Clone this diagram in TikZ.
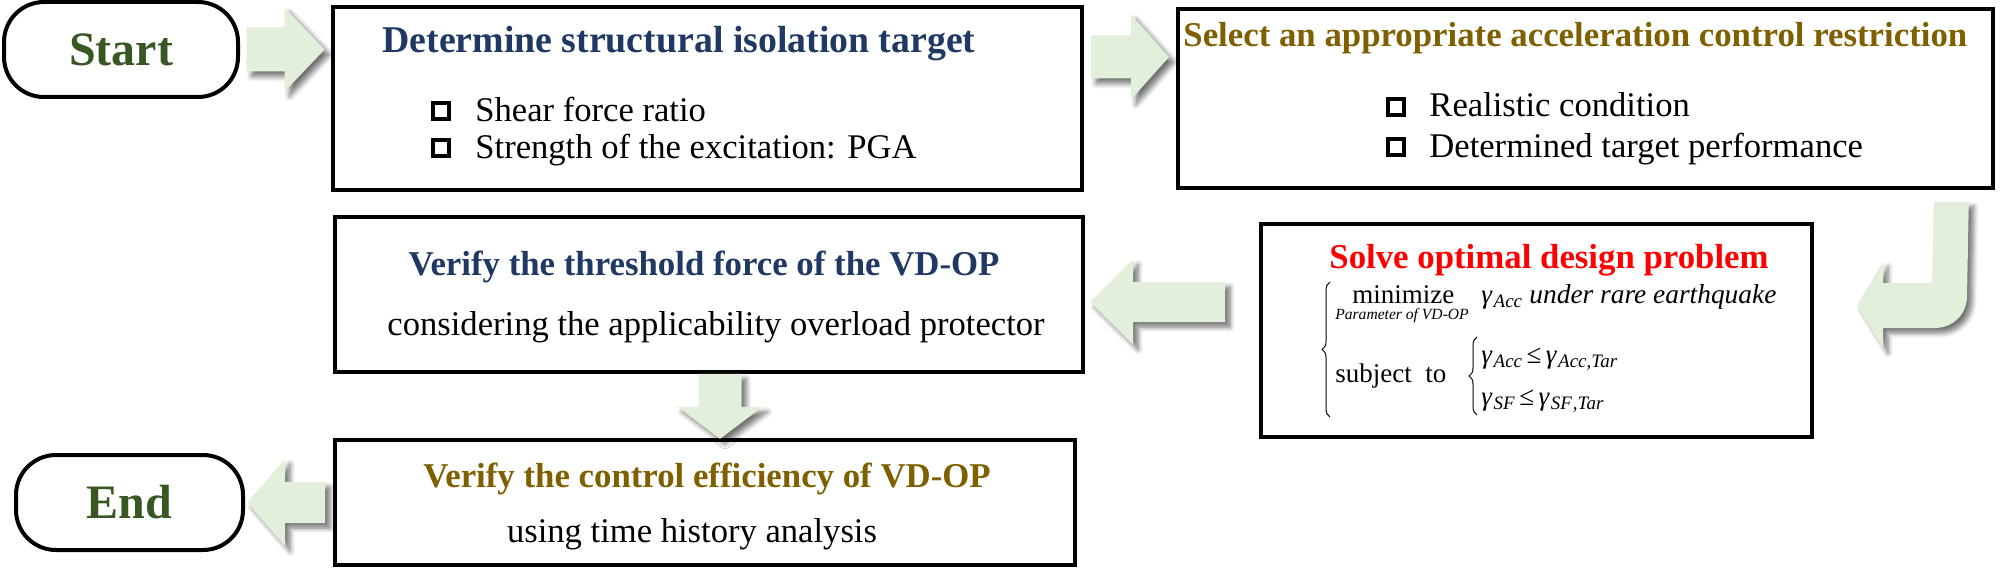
\documentclass[tikz,border=0pt]{standalone}
\usepackage{fontspec}
\setmainfont{Liberation Serif}
\usetikzlibrary{calc,decorations.pathreplacing,shadows.blur}
\definecolor{arrowgreen}{HTML}{E2EFDA}
\definecolor{termgreen}{HTML}{385723}
\definecolor{navyblue}{HTML}{1F3864}
\definecolor{goldbrown}{HTML}{7F6000}
\newcommand\gsubx[1]{{\itshape γ}\kern0.8pt\raisebox{-0.35ex}{\fontsize{9.5}{10}\selectfont\itshape #1}}
\begin{document}
\begin{tikzpicture}[x=0.5pt,y=-0.5pt,
  boxnode/.style={draw=black,line width=1.8pt,inner sep=0pt,fill=white},
  termnode/.style={draw=black,line width=2pt,rounded corners=20pt,inner sep=0pt,fill=white,
     font=\fontsize{24}{28}\selectfont\bfseries,text=termgreen},
  ttlfont/.style={font=\fontsize{17.4}{20}\selectfont\bfseries,inner sep=0pt},
  bodyfont/.style={font=\fontsize{17.3}{20}\selectfont,inner sep=0pt},
  chk/.style={draw=black,line width=2pt,minimum size=8pt,inner sep=0pt},
  mathtxt/.style={font=\fontsize{13.5}{16}\selectfont,inner sep=0pt},
  arrowfill/.style={fill=arrowgreen,blur shadow={shadow xshift=2.5pt,shadow yshift=-2.5pt,shadow blur steps=6,shadow blur radius=2.5pt,shadow opacity=55}},
  pics/rarr/.style n args={4}{code={\fill[arrowfill] ({-#1/2},{-#2}) -- ({#1/2-#4},{-#2}) -- ({#1/2-#4},{-#3}) -- ({#1/2},0) -- ({#1/2-#4},{#3}) -- ({#1/2-#4},{#2}) -- ({-#1/2},{#2}) -- cycle;}},
  pics/larr/.style n args={4}{code={\fill[arrowfill] ({#1/2},{-#2}) -- ({-#1/2+#4},{-#2}) -- ({-#1/2+#4},{-#3}) -- ({-#1/2},0) -- ({-#1/2+#4},{#3}) -- ({-#1/2+#4},{#2}) -- ({#1/2},{#2}) -- cycle;}},
  pics/darr/.style n args={4}{code={\fill[arrowfill] ({-#2},{-#1/2}) -- ({-#2},{#1/2-#4}) -- ({-#3},{#1/2-#4}) -- (0,{#1/2}) -- ({#3},{#1/2-#4}) -- ({#2},{#1/2-#4}) -- ({#2},{-#1/2}) -- cycle;}}
]
\useasboundingbox (0,0) rectangle (2000,567);

% nodes
\node[termnode,minimum width=117pt,minimum height=47.5pt] (start) at (121,49.5) {Start};
\node[boxnode,minimum width=374.5pt,minimum height=91.5pt] (box1) at (707.5,98.5) {};
\node[boxnode,minimum width=407.5pt,minimum height=89.5pt] (box2) at (1585.5,98.5) {};
\node[boxnode,minimum width=275.5pt,minimum height=106.5pt] (solve) at (1536.5,330.5) {};
\node[boxnode,minimum width=374pt,minimum height=77.5pt] (verif1) at (709,294.5) {};
\node[boxnode,minimum width=370pt,minimum height=62.5pt] (verif2) at (705,502.5) {};
\node[termnode,minimum width=113.5pt,minimum height=47.5pt] (end) at (129.5,502.5) {End};

% box 1 texts
\node[ttlfont,font=\fontsize{18.9}{22}\selectfont\bfseries,text=navyblue,anchor=base west] (t1) at (382,53) {Determine structural isolation target};
\node[chk] (c11) at (441,111) {};
\node[bodyfont,anchor=base west] (i11) at (475,121) {Shear force ratio};
\node[chk] (c12) at (441,148) {};
\node[bodyfont,anchor=base west] (i12) at (475,158) {Strength of the excitation: PGA};

% box 2 texts
\node[ttlfont,text=goldbrown,anchor=base west] (t2) at (1183,47) {Select an appropriate acceleration control restriction};
\node[chk] (c21) at (1396,107) {};
\node[bodyfont,anchor=base west] (i21) at (1429,117) {Realistic condition};
\node[chk] (c22) at (1396,147) {};
\node[bodyfont,anchor=base west] (i22) at (1429,157) {Determined target performance};

% solve box
\node[ttlfont,text=red,anchor=base] (t3) at (1549,268) {Solve optimal design problem};
\node[mathtxt,anchor=base west] (m1) at (1352,303) {minimize};
\node[inner sep=0pt,font=\fontsize{7.8}{9}\selectfont\itshape,anchor=base] (m2) at (1402,319) {Parameter of VD-OP};
\node[mathtxt,anchor=base west] (m3) at (1481,303) {\gsubx{Acc}};
\node[mathtxt,font=\fontsize{13.7}{16}\selectfont\itshape,anchor=base west] (m4) at (1529,303) {under rare earthquake};
\node[mathtxt,anchor=base west] (m5) at (1335,382) {subject\ \ to};
\node[mathtxt,anchor=base west] (m6) at (1481,363) {\gsubx{Acc}\,≤\,\gsubx{Acc,Tar}};
\node[mathtxt,anchor=base west] (m7) at (1481,405) {\gsubx{SF}\,≤\,\gsubx{SF\kern0.5pt,Tar}};
\draw[decorate,decoration={brace,amplitude=4pt},line width=0.5pt] (1330,417) -- (1330,282);
\draw[decorate,decoration={brace,amplitude=4pt},line width=0.5pt] (1477,415) -- (1477,337);

% verify threshold
\node[ttlfont,text=navyblue,anchor=base] (t4) at (704,275) {Verify the threshold force of the VD-OP};
\node[bodyfont,anchor=base] (i4) at (716,335) {considering the applicability overload protector};

% verify control
\node[ttlfont,text=goldbrown,anchor=base] (t5) at (707,487) {Verify the control efficiency of VD-OP};
\node[bodyfont,anchor=base] (i5) at (692,542) {using time history analysis};

% block arrows
\pic at ($(start.east)!0.5!(box1.west|-start.east)$) {rarr={78}{22}{42}{40}};
\pic at ($(box1.east)!0.5!(box2.west)+(0,-41.5)$) {rarr={78}{21.5}{42.5}{38}};
\pic at ($(verif1.east)!0.5!(solve.west)+(-14.5,-10.5)$) {larr={135}{20}{42.5}{43}};
\pic at ($(verif1.south)+(11,32.5)$) {darr={65}{21.5}{42.5}{32}};
\pic at ($(end.east)!0.5!(verif2.west)+(-3,0)$) {larr={78}{20.5}{43.5}{38}};
% J-shaped arrow from box2 to solve
\fill[arrowfill] ($(box2.south east)+(-61,12)$) coordinate (jtop) -- ++(35,0) -- (1967,296) .. controls (1967,314) and (1953,328) .. (1935,328) -- (1883,328) -- (1883,348) -- (1857,305) -- (1883,262) -- (1883,283) -- (1932,283) -- cycle;
\end{tikzpicture}
\end{document}
